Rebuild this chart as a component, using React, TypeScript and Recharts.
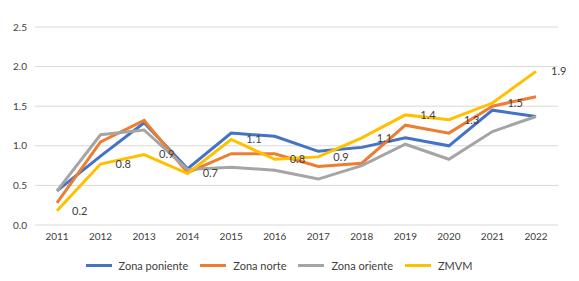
import { LineChart, Line, XAxis, YAxis, CartesianGrid, Legend, LabelList } from "recharts";

const years = ["2011", "2012", "2013", "2014", "2015", "2016", "2017", "2018", "2019", "2020", "2021", "2022"];
const poniente = [0.43, 0.87, 1.29, 0.71, 1.16, 1.12, 0.93, 0.98, 1.1, 1.0, 1.45, 1.37];
const norte = [0.28, 1.05, 1.32, 0.66, 0.9, 0.9, 0.74, 0.78, 1.26, 1.16, 1.5, 1.62];
const oriente = [0.43, 1.14, 1.2, 0.7, 0.73, 0.69, 0.58, 0.75, 1.02, 0.83, 1.18, 1.37];
const zmvm = [0.18, 0.77, 0.89, 0.65, 1.08, 0.83, 0.86, 1.1, 1.39, 1.33, 1.54, 1.94];
const yTicks = [0, 0.5, 1, 1.5, 2, 2.5];

const SERIES = [
  { key: "poniente", name: "Zona poniente", color: "#4472C4" },
  { key: "norte", name: "Zona norte", color: "#ED7D31" },
  { key: "oriente", name: "Zona oriente", color: "#A5A5A5" },
  { key: "zmvm", name: "ZMVM", color: "#FFC000" },
];

const data = years.map((year, i) => ({
  year,
  poniente: poniente[i],
  norte: norte[i],
  oriente: oriente[i],
  zmvm: zmvm[i],
}));

const FONT = "Lato, 'Open Sans', sans-serif";

function LegendRow() {
  return (
    <div style={{ display: "flex", justifyContent: "center", alignItems: "center", height: 20, fontFamily: FONT, fontSize: 11, color: "#404040" }}>
      {SERIES.map((s) => (
        <div key={s.key} style={{ display: "flex", alignItems: "center", margin: "0 6px" }}>
          <span style={{ display: "inline-block", width: 26, height: 3, background: s.color, marginRight: 7 }} />
          <span>{s.name}</span>
        </div>
      ))}
    </div>
  );
}

export default function App() {
  return (
    <div style={{ position: "absolute", left: 0, top: 0, background: "#fff" }}>
      <LineChart width={579} height={281} data={data} margin={{ top: 27, right: 21, left: 0, bottom: 6 }}>
        <CartesianGrid vertical={false} stroke="#d9d9d9" />
        <XAxis
          dataKey="year"
          axisLine={false}
          tickLine={false}
          tickSize={0}
          tickMargin={8}
          height={30}
          padding={{ left: 22, right: 22 }}
          tick={{ fill: "#404040", fontSize: 10, fontFamily: FONT }}
        />
        <YAxis
          domain={[0, 2.5]}
          ticks={yTicks}
          width={35}
          axisLine={false}
          tickLine={false}
          tickSize={0}
          tickMargin={8}
          tickFormatter={(v: number) => v.toFixed(1)}
          tick={{ fill: "#404040", fontSize: 10, fontFamily: FONT }}
        />
        {SERIES.map((s) => (
          <Line
            key={s.key}
            dataKey={s.key}
            name={s.name}
            stroke={s.color}
            strokeWidth={3}
            dot={false}
            type="linear"
            isAnimationActive={false}
          >
            {s.key === "zmvm" && (
              <LabelList
                dataKey="zmvm"
                position="right"
                offset={15}
                formatter={(v: number) => v.toFixed(1)}
                style={{ fill: "#404040", fontSize: 11, fontFamily: FONT }}
              />
            )}
          </Line>
        ))}
        <Legend verticalAlign="bottom" content={<LegendRow />} />
      </LineChart>
    </div>
  );
}
